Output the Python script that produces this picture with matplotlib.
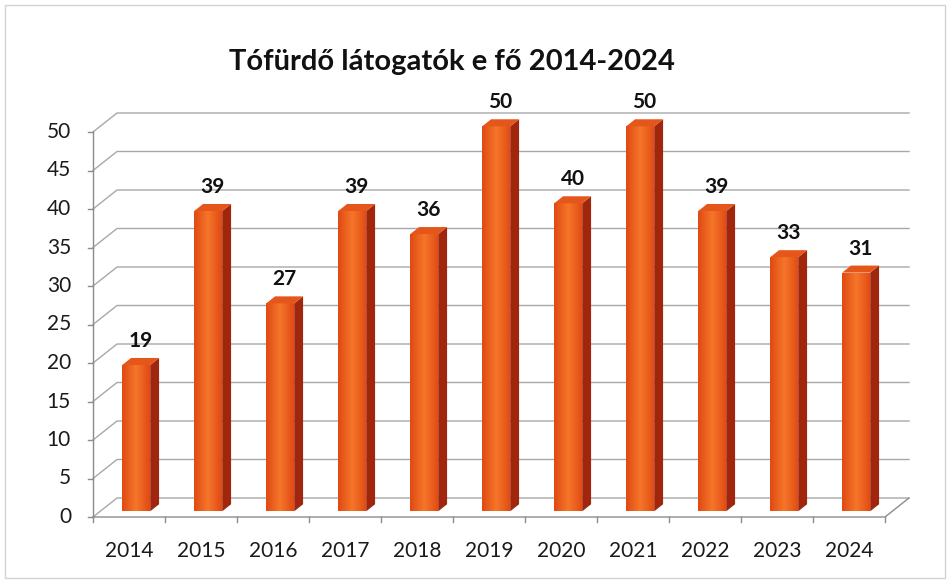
import matplotlib
matplotlib.use('Agg')
import matplotlib.pyplot as plt
from matplotlib.patches import Polygon, Rectangle
from matplotlib.colors import LinearSegmentedColormap
import numpy as np

years = ['2014', '2015', '2016', '2017', '2018', '2019', '2020', '2021', '2022', '2023', '2024']
visitors = [19, 39, 27, 39, 36, 50, 40, 50, 39, 33, 31]
y_ticks = [0, 5, 10, 15, 20, 25, 30, 35, 40, 45, 50]
title = 'Tófürdő látogatók e fő 2014-2024'

plt.rcParams['font.family'] = ['Lato', 'DejaVu Sans']

W, H = 950, 583
fig = plt.figure(figsize=(9.5, 5.83), dpi=100)
fig.patch.set_facecolor('white')

# layout (pixels)
px_x0, px_y0 = 93, 517
ux, uy = 72.0, 7.7
xmin, xmax = -0.5, 10.85
ymin, ymax = 0, 53
ax = fig.add_axes([px_x0 / W, (H - px_y0) / H, (xmax - xmin) * ux / W, (ymax - ymin) * uy / H])
ax.set_xlim(xmin, xmax)
ax.set_ylim(ymin, ymax)
ax.axis('off')

DX, DY = 24 / ux, 19 / uy
n = len(years)
xl, xr = -0.5, n - 0.5
grid_c = '#a8a8a8'
axis_c = '#8c8c8c'

# gridlines on back wall + side wall
for v in y_ticks:
    ax.plot([xl, xl + DX, xr + DX], [v, v + DY, v + DY], color=grid_c, lw=1.0, clip_on=False, zorder=1)
    ax.plot([xl - 5 / ux, xl], [v, v], color=axis_c, lw=1.0, clip_on=False, zorder=1)
    ax.text(xl - 22 / ux, v, str(v), ha='right', va='center', fontsize=15, color='#1a1a1a')

# left axis
ax.plot([xl, xl], [0, y_ticks[-1]], color=axis_c, lw=1.0, clip_on=False, zorder=2)
# floor front + right edge
ax.plot([xl, xr, xr + DX], [0, 0, DY], color=axis_c, lw=1.0, clip_on=False, zorder=2)
for k in range(n + 1):
    ax.plot([xl + k, xl + k], [0, -5 / uy], color=axis_c, lw=1.0, clip_on=False, zorder=2)

# bars
f0, f1 = 0.30, 0.67
bw = 28 / ux
ddx, ddy = (f1 - f0) * DX, (f1 - f0) * DY
grad = np.linspace(0, 1, 64)
prof = 1 - np.abs(grad - 0.5) * 2
cmap = LinearSegmentedColormap.from_list('o', ['#e04a14', '#f5762a'])
for i, v in enumerate(visitors):
    cx = i + f0 * DX
    cy = f0 * DY
    L, R = cx - bw / 2, cx + bw / 2
    front = Polygon([(L, cy), (R, cy), (R, cy + v), (L, cy + v)], closed=True,
                    facecolor='#f0621c', edgecolor='none', zorder=5)
    ax.add_patch(front)
    im = ax.imshow(prof[np.newaxis, :], extent=[L, R, cy, cy + v], aspect='auto',
                   cmap=cmap, vmin=0, vmax=1, zorder=5.5, interpolation='bilinear')
    im.set_clip_path(front)
    side = Polygon([(R, cy), (R + ddx, cy + ddy), (R + ddx, cy + v + ddy), (R, cy + v)], closed=True,
                   facecolor='#a0260e', edgecolor='none', zorder=5)
    ax.add_patch(side)
    top = Polygon([(L, cy + v), (R, cy + v), (R + ddx, cy + v + ddy), (L + ddx, cy + v + ddy)], closed=True,
                  facecolor='#e4561a', edgecolor='none', zorder=6)
    ax.add_patch(top)
    ax.text(cx + ddx / 2, cy + v + ddy + 7 / uy, str(v), ha='center', va='bottom',
            fontsize=15, fontweight='bold', color='#111111', zorder=7)
    ax.text(i, -34 / uy, years[i], ha='center', va='center', fontsize=15, color='#1a1a1a')

ax.set_xlim(xmin, xmax)
ax.set_ylim(ymin, ymax)

fig.text(452 / W, 1 - 62 / H, title, ha='center', va='center', fontsize=21, fontweight='bold', color='#111111')

fig.patches.append(Rectangle((5 / W, 5 / H), 940 / W, 573 / H, transform=fig.transFigure,
                             fill=False, edgecolor='#d4d4d4', lw=1.0))

fig.savefig('out.png', dpi=100)
